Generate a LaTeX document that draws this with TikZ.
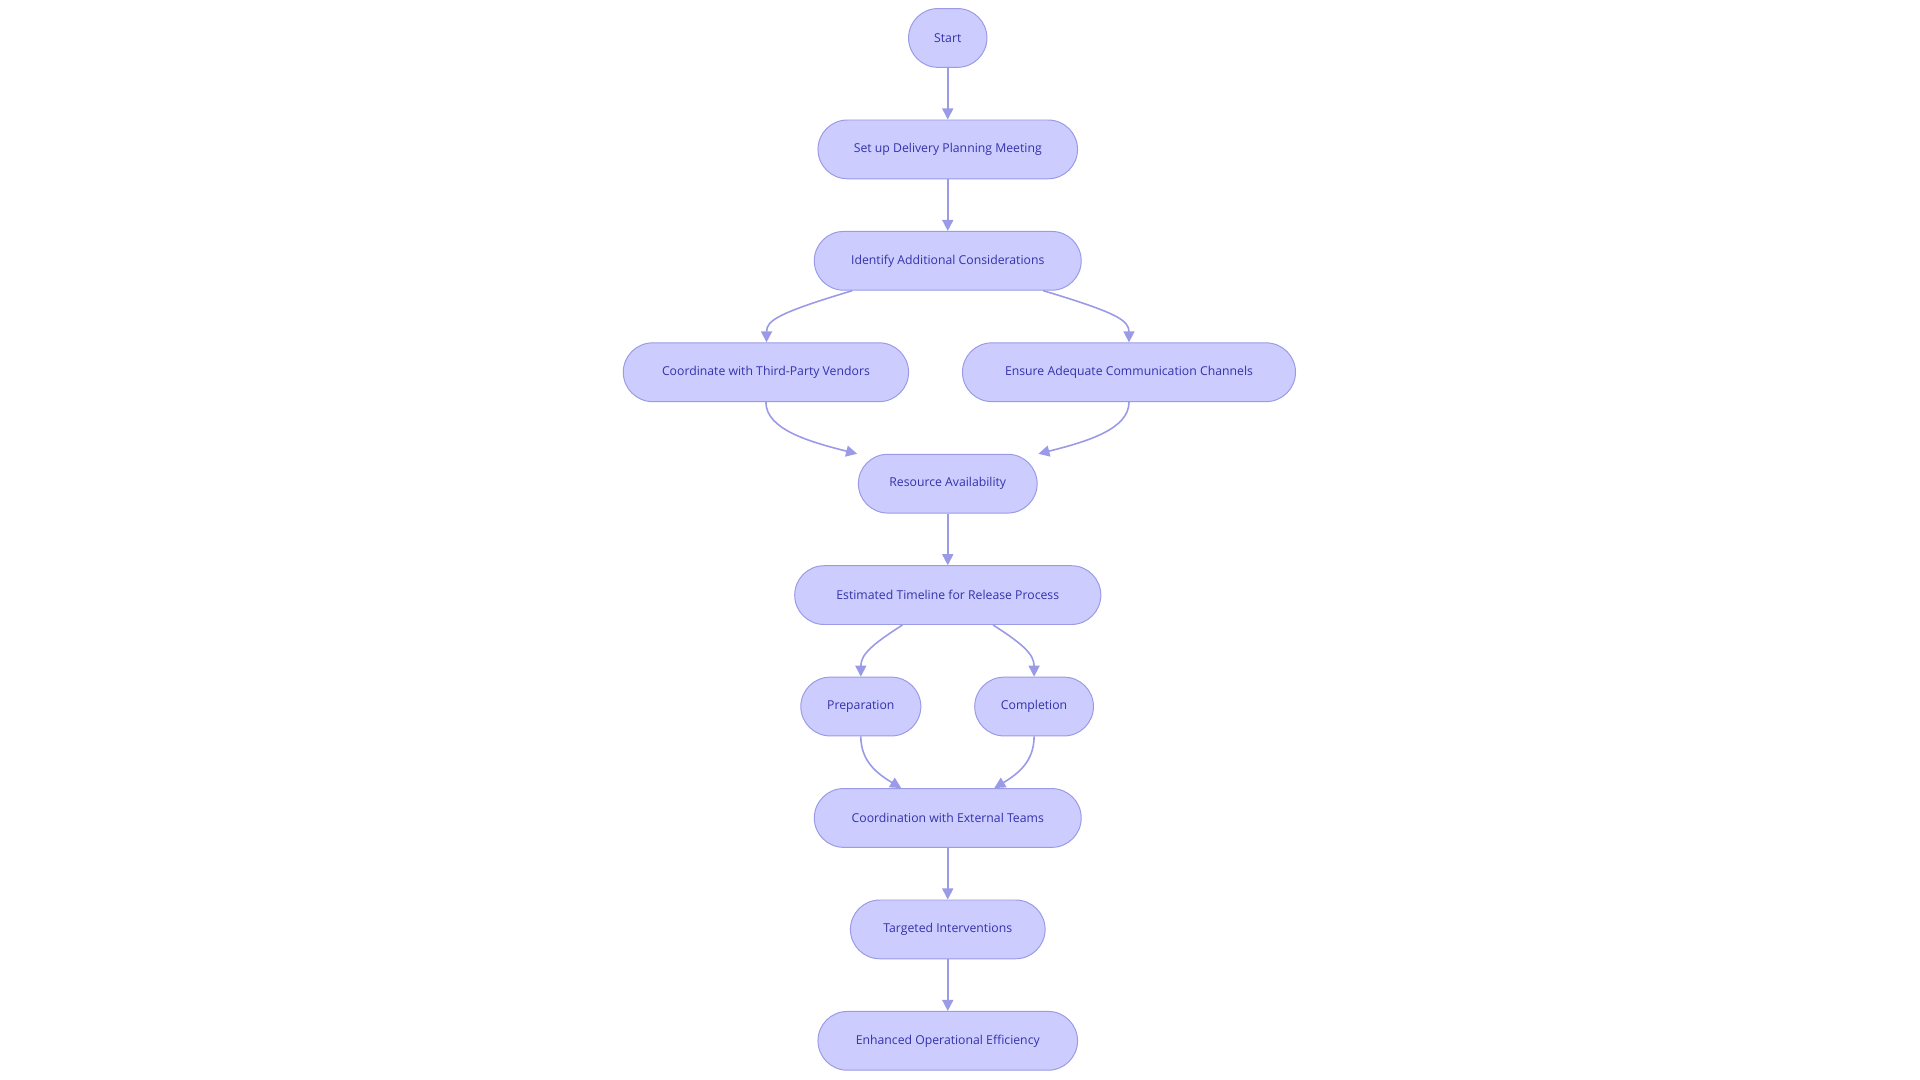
\documentclass[tikz,border=0pt]{standalone}
\usepackage{fontspec}
\setmainfont{Open Sans}
\usetikzlibrary{arrows.meta}
\definecolor{nfill}{HTML}{CCCCFF}
\definecolor{nline}{HTML}{9A9AE6}
\definecolor{ntext}{HTML}{3333AA}
\begin{document}
\begin{tikzpicture}[x=1pt,y=1pt,
  box/.style={draw=nline,fill=nfill,rounded corners=24pt,minimum height=48pt,inner sep=0pt,text=ntext,font=\fontsize{10}{12}\selectfont,line width=0.8pt},
  conn/.style={draw=nline,line width=1.3pt,-{Triangle[length=9pt,width=9pt]}}]
\useasboundingbox (0,0) rectangle (1568,-882);
\node[box,minimum width=64pt] (start) at (774,-31) {Start};
\node[box,minimum width=212pt] (setup) at (774,-122) {Set up Delivery Planning Meeting};
\node[box,minimum width=218pt] (ident) at (774,-213) {Identify Additional Considerations};
\node[box,minimum width=233pt] (vend) at (625.5,-304) {Coordinate with Third-Party Vendors};
\node[box,minimum width=272pt] (comm) at (922,-304) {Ensure Adequate Communication Channels};
\node[box,minimum width=146pt] (res) at (774,-395) {Resource Availability};
\node[box,minimum width=250pt] (est) at (774,-486) {Estimated Timeline for Release Process};
\node[box,minimum width=98pt] (prep) at (703,-577) {Preparation};
\node[box,minimum width=97pt] (compl) at (844.5,-577) {Completion};
\node[box,minimum width=218pt] (coord) at (774,-668) {Coordination with External Teams};
\node[box,minimum width=159pt] (targ) at (774,-759) {Targeted Interventions};
\node[box,minimum width=212pt] (enh) at (774,-850) {Enhanced Operational Efficiency};
\draw[conn] (start) -- (setup);
\draw[conn] (setup) -- (ident);
\draw[conn] ([xshift=-78pt]ident.south) .. controls +(-60,-18) and +(0,18) .. ([xshift=0.5pt]vend.north);
\draw[conn] ([xshift=78pt]ident.south) .. controls +(60,-18) and +(0,18) .. (comm.north);
\draw[conn] (vend.south) .. controls +(0,-22) and +(-40,10) .. ([xshift=-74pt]res.north);
\draw[conn] (comm.south) .. controls +(0,-22) and +(40,10) .. ([xshift=74pt]res.north);
\draw[conn] (res) -- (est);
\draw[conn] ([xshift=-37pt]est.south) .. controls +(-25,-16) and +(0,18) .. (prep.north);
\draw[conn] ([xshift=37pt]est.south) .. controls +(25,-16) and +(0,18) .. (compl.north);
\draw[conn] (prep.south) .. controls +(0,-20) and +(-20,12) .. ([xshift=-38pt]coord.north);
\draw[conn] (compl.south) .. controls +(0,-20) and +(20,12) .. ([xshift=38pt]coord.north);
\draw[conn] (coord) -- (targ);
\draw[conn] (targ) -- (enh);
\end{tikzpicture}
\end{document}
